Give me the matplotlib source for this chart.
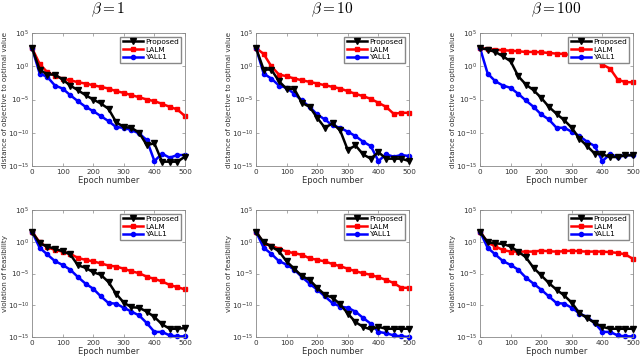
import numpy as np
import matplotlib.pyplot as plt

plt.rcParams['mathtext.fontset'] = 'cm'

epochs = np.arange(0, 501, 25)
betas = ["1", "10", "100"]

# log10 of distance of objective to optimal value
obj_prop = [
    [2.75, -0.5, -1.25, -1.25, -2.0, -2.9, -3.6, -4.35, -5.0, -5.6, -6.4, -8.4, -9.15, -9.25, -10.0, -11.85, -11.6, -14.35, -14.35, -14.35, -13.6],
    [2.75, -0.5, -0.5, -2.25, -3.4, -3.4, -5.5, -6.1, -7.75, -9.25, -8.6, -9.65, -12.6, -11.9, -13.25, -13.9, -12.9, -13.9, -13.9, -13.9, -14.25],
    [2.75, 2.5, 2.15, 1.5, 0.75, -1.5, -2.75, -3.6, -4.75, -6.1, -7.15, -8.1, -9.25, -10.9, -12.0, -13.15, -13.25, -13.65, -13.65, -13.4, -13.4],
]
obj_lalm = [
    [2.75, 0.35, -0.9, -1.4, -1.9, -2.1, -2.4, -2.6, -2.85, -3.1, -3.35, -3.75, -4.0, -4.35, -4.65, -5.0, -5.25, -5.65, -6.1, -6.5, -7.5],
    [2.75, 1.85, 0.0, -1.25, -1.5, -1.85, -2.1, -2.35, -2.6, -2.85, -3.1, -3.35, -3.75, -4.15, -4.5, -4.9, -5.5, -6.1, -7.15, -7.0, -7.0],
    [2.75, 2.6, 2.5, 2.4, 2.35, 2.25, 2.15, 2.15, 2.1, 2.0, 1.9, 1.85, 1.65, 1.5, 1.25, 0.9, 0.25, -0.35, -2.0, -2.4, -2.4],
]
obj_yall = [
    [2.75, -1.1, -1.6, -2.9, -3.35, -4.35, -5.25, -6.1, -6.75, -7.5, -8.25, -9.15, -9.25, -9.6, -10.1, -11.1, -14.25, -13.15, -13.75, -13.35, -13.35],
    [2.75, -1.1, -1.85, -2.9, -3.25, -4.15, -5.15, -6.1, -7.25, -8.0, -8.9, -9.25, -9.85, -10.5, -11.35, -12.0, -14.25, -13.25, -13.6, -13.35, -13.5],
    [2.75, -1.1, -2.25, -2.9, -3.25, -4.15, -5.15, -6.1, -7.25, -8.0, -9.25, -9.25, -9.85, -10.5, -11.35, -12.0, -14.25, -13.25, -13.6, -13.35, -13.35],
]

# log10 of violation of feasibility
feas_prop = [
    [1.6, -0.24, -0.75, -1.1, -1.5, -2.0, -3.7, -4.1, -4.8, -5.2, -6.35, -8.2, -9.6, -10.3, -10.4, -11.0, -11.85, -13.0, -13.7, -13.7, -13.6],
    [1.6, -0.1, -0.75, -1.5, -3.1, -4.25, -5.4, -6.0, -7.25, -8.35, -8.8, -9.85, -11.3, -12.65, -13.4, -13.8, -13.4, -13.7, -13.7, -13.7, -13.7],
    [1.6, -0.1, -0.25, -0.35, -0.75, -1.55, -2.45, -4.1, -5.3, -6.5, -7.55, -8.45, -9.6, -11.25, -12.0, -12.8, -13.4, -13.7, -13.7, -13.7, -13.7],
]
feas_lalm = [
    [1.6, -0.1, -0.85, -1.3, -1.55, -1.9, -2.55, -2.85, -3.1, -3.4, -3.75, -3.9, -4.25, -4.65, -4.95, -5.5, -5.85, -6.25, -6.8, -7.15, -7.5],
    [1.6, -0.24, -0.6, -1.1, -1.55, -1.8, -2.05, -2.6, -2.85, -3.1, -3.5, -3.85, -4.25, -4.65, -4.95, -5.2, -5.6, -6.0, -6.5, -7.25, -7.25],
    [1.6, -0.1, -0.75, -1.3, -1.55, -1.55, -1.55, -1.55, -1.4, -1.5, -1.55, -1.5, -1.4, -1.5, -1.55, -1.55, -1.55, -1.65, -1.75, -2.0, -2.7],
]
feas_yall = [
    [1.6, -0.95, -2.0, -3.05, -3.65, -4.4, -5.55, -6.6, -7.4, -8.6, -9.65, -9.75, -10.4, -11.0, -11.6, -12.8, -14.2, -14.2, -14.75, -14.9, -14.9],
    [1.6, -0.95, -1.9, -3.05, -3.6, -4.4, -5.55, -6.6, -7.55, -8.6, -9.65, -10.2, -10.4, -11.0, -12.0, -12.9, -14.2, -14.4, -14.75, -14.9, -15.0],
    [1.6, -0.95, -2.0, -3.05, -3.65, -4.4, -5.65, -6.6, -7.55, -8.6, -9.65, -9.75, -10.4, -11.3, -11.85, -12.8, -14.2, -14.2, -14.75, -14.9, -14.9],
]

fig = plt.figure(figsize=(6.4, 3.6), dpi=100)
lefts = [32/640, 256/640, 480/640]
w = 153/640
rows = [(1-166/360, 133/360), (1-337/360, 127/360)]
tc = "#333333"

def draw(ax, p, l, y, ylabel, title=None):
    ax.semilogy(epochs, 10**np.array(p), "-v", color="k", lw=1.8, ms=4, label="Proposed", clip_on=False, zorder=3)
    ax.semilogy(epochs, 10**np.array(l), "-s", color="#ff0000", lw=1.8, ms=3, label="LALM", clip_on=False)
    ax.semilogy(epochs, 10**np.array(y), "-o", color="#0000ff", lw=1.8, ms=3, label="YALL1", clip_on=False)
    ax.set_xlim(0, 500); ax.set_ylim(1e-15, 1e5)
    ax.set_xticks([0, 100, 200, 300, 400, 500])
    ax.set_yticks([1e5, 1e0, 1e-5, 1e-10, 1e-15])
    ax.minorticks_off()
    ax.tick_params(direction="in", top=True, right=True, labelsize=5.2, length=2, width=0.5, colors="#888888", labelcolor=tc, pad=2)
    for s in ax.spines.values():
        s.set_color("#888888"); s.set_linewidth(0.6)
    ax.set_xlabel("Epoch number", fontsize=6, color=tc, labelpad=1)
    ax.set_ylabel(ylabel, fontsize=5.2, color=tc)
    ax.yaxis.set_label_coords(-0.155, 0.5)
    if title:
        ax.set_title(title, fontsize=11, pad=14)
    ax.legend(loc="upper right", fontsize=5.3, fancybox=False, edgecolor="#888888", framealpha=1,
              handlelength=2.8, borderpad=0.3, labelspacing=0.2, handletextpad=0.3, borderaxespad=0.5)

for i in range(3):
    ax = fig.add_axes([lefts[i], rows[0][0], w, rows[0][1]])
    draw(ax, obj_prop[i], obj_lalm[i], obj_yall[i], "distance of objective to optimal value", r"$\beta = %s$" % betas[i])
    ax = fig.add_axes([lefts[i], rows[1][0], w, rows[1][1]])
    draw(ax, feas_prop[i], feas_lalm[i], feas_yall[i], "violation of feasibility")

fig.savefig("out.png", dpi=100)
